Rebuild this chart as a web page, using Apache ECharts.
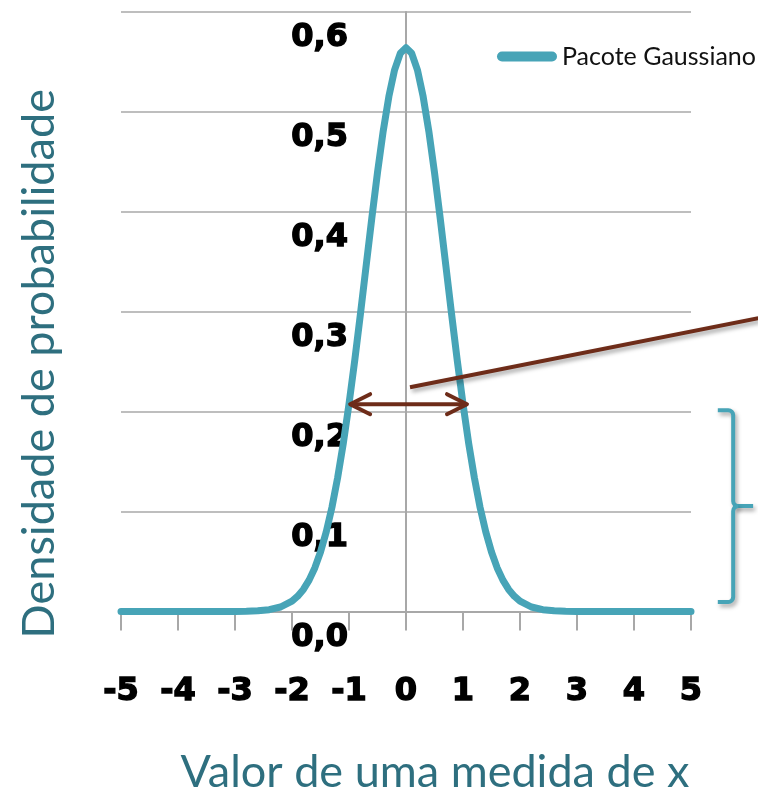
<!DOCTYPE html>
<html>
<head>
<meta charset="utf-8">
<script src="https://cdn.jsdelivr.net/npm/echarts@6.0.0/dist/echarts.min.js"></script>
<style>html,body{margin:0;padding:0;background:#fff}#c{width:758px;height:789px}</style>
</head>
<body>
<div id="c"></div>
<script>
// x positions and density values
const xs = [-5,-4,-3,-2.8,-2.6,-2.4,-2.2,-2.0,-1.9,-1.8,-1.7,-1.6,-1.5,-1.4,-1.3,-1.2,-1.1,-1.0,-0.9,-0.8,-0.7,-0.6,-0.5,-0.4,-0.3,-0.2,-0.1,0,
            0.1,0.2,0.3,0.4,0.5,0.6,0.7,0.8,0.9,1.0,1.1,1.2,1.3,1.4,1.5,1.6,1.7,1.8,1.9,2.0,2.2,2.4,2.6,2.8,3,4,5];
const ys = [0,0,0.0001,0.0002,0.0007,0.0018,0.0045,0.0103,0.0153,0.0221,0.0314,0.0436,0.0595,0.0795,0.1041,0.1337,0.1682,0.2076,0.2510,0.2975,0.3456,0.3936,0.4394,0.4808,0.5156,0.5421,0.5586,0.5642,
            0.5586,0.5421,0.5156,0.4808,0.4394,0.3936,0.3456,0.2975,0.2510,0.2076,0.1682,0.1337,0.1041,0.0795,0.0595,0.0436,0.0314,0.0221,0.0153,0.0103,0.0045,0.0018,0.0007,0.0002,0.0001,0,0];
const seriesName = 'Pacote Gaussiano';
const xTitle = 'Valor de uma medida de x';
const yTitle = 'Densidade de probabilidade';
const yTickLabels = ['0,0','0,1','0,2','0,3','0,4','0,5','0,6'];
// annotations (data coordinates)
const pointerLine = [[0.07,0.2245],[6.18,0.2935]];
const widthArrow = [[-0.98,0.2075],[1.07,0.2075]];
const bracketRange = [0.0095,0.2015];

const teal = '#47a4b7';
const titleTeal = '#2e6f7f';
const brown = '#6e2c19';
const gray = '#a8a8a8';

const chart = echarts.init(document.getElementById('c'), null, {renderer:'canvas'});
const data = xs.map((x,i)=>[x, ys[i]]);
const tickFont = {fontFamily:'DejaVu Sans',fontWeight:'bold',fontSize:32,color:'#000',textBorderColor:'#000',textBorderWidth:1.4};
chart.setOption({
  animation:false,
  grid:{left:121,right:67,top:12,bottom:177.5,containLabel:false,outerBoundsMode:'none'},
  legend:{
    show:true,left:497,top:44,padding:0,itemWidth:60,itemHeight:11,itemGap:8,
    icon:'path://M5,0 L55,0 A5,5 0 0 1 55,10 L5,10 A5,5 0 0 1 5,0 Z',
    textStyle:{fontFamily:'Lato',fontSize:25,color:'#111'},
    data:[seriesName]
  },
  xAxis:{
    type:'value',min:-5,max:5,interval:1,
    name:xTitle,nameLocation:'middle',nameGap:138,
    nameTextStyle:{fontFamily:'Lato',fontSize:45,color:titleTeal,padding:[0,0,0,58]},
    axisLine:{show:true,onZero:true,lineStyle:{color:gray,width:2}},
    axisTick:{show:true,length:19,lineStyle:{color:gray,width:2}},
    splitLine:{show:false},
    axisLabel:Object.assign({margin:64},tickFont)
  },
  yAxis:{
    type:'value',min:0,max:0.6,interval:0.1,offset:-285,
    name:yTitle,nameLocation:'middle',nameGap:344,
    nameTextStyle:{fontFamily:'Lato',fontSize:45,color:titleTeal,padding:[0,104,0,0]},
    axisLine:{show:true,onZero:false,lineStyle:{color:gray,width:2}},
    axisTick:{show:false},
    splitLine:{show:true,lineStyle:{color:gray,width:1.5}},
    axisLabel:Object.assign({margin:58,verticalAlign:'top',lineHeight:52,
      formatter:(v)=>yTickLabels[Math.round(v*10)]},tickFont)
  },
  series:[{
    name:seriesName,type:'line',data:data,showSymbol:false,symbol:'none',
    smooth:false,
    lineStyle:{color:teal,width:7,cap:'round',join:'round'},
    itemStyle:{color:teal}
  }]
});

function px(p){return chart.convertToPixel({gridIndex:0},p);}
const a0 = px(pointerLine[0]), a1 = px(pointerLine[1]);
const w0 = px(widthArrow[0]), w1 = px(widthArrow[1]);
const bTop = px([5.47,bracketRange[1]]), bBot = px([5.47,bracketRange[0]]);
const bx = px([5.74,0])[0], nubX = px([6.09,0])[0], bx0 = bTop[0];
const midY = (bTop[1]+bBot[1])/2;
const shadow = {shadowBlur:4,shadowColor:'rgba(0,0,0,0.35)',shadowOffsetX:2,shadowOffsetY:3};
const ah = 20, aw = 10, r = 5;
function corner(cx, cy, a0, a1){ // quarter arc points
  const pts=[]; for(let k=0;k<=4;k++){const a=a0+(a1-a0)*k/4; pts.push([cx+r*Math.cos(a), cy+r*Math.sin(a)]);} return pts;
}
const upper = [[bx0,bTop[1]]].concat(corner(bx-r,bTop[1]+r,-Math.PI/2,0), corner(bx+r,midY-r,Math.PI,Math.PI/2), [[nubX,midY]]);
const lower = [[bx+r,midY]].concat(corner(bx+r,midY+r,-Math.PI/2,-Math.PI), corner(bx-r,bBot[1]-r,0,Math.PI/2), [[bx0,bBot[1]]]);
chart.setOption({
  graphic:[
    {type:'line',shape:{x1:a0[0],y1:a0[1],x2:a1[0],y2:a1[1]},style:Object.assign({stroke:brown,lineWidth:4},shadow),z:10},
    {type:'line',shape:{x1:w0[0],y1:w0[1],x2:w1[0],y2:w1[1]},style:{stroke:brown,lineWidth:4},z:10},
    {type:'polyline',shape:{points:[[w0[0]+ah,w0[1]-aw],[w0[0],w0[1]],[w0[0]+ah,w0[1]+aw]]},style:{stroke:brown,lineWidth:4,fill:null,lineCap:'round',lineJoin:'round'},z:10},
    {type:'polyline',shape:{points:[[w1[0]-ah,w1[1]-aw],[w1[0],w1[1]],[w1[0]-ah,w1[1]+aw]]},style:{stroke:brown,lineWidth:4,fill:null,lineCap:'round',lineJoin:'round'},z:10},
    {type:'polyline',shape:{points:upper},style:Object.assign({stroke:teal,lineWidth:4,fill:null},shadow),z:10},
    {type:'polyline',shape:{points:lower},style:Object.assign({stroke:teal,lineWidth:4,fill:null},shadow),z:10}
  ]
});
</script>
</body>
</html>
